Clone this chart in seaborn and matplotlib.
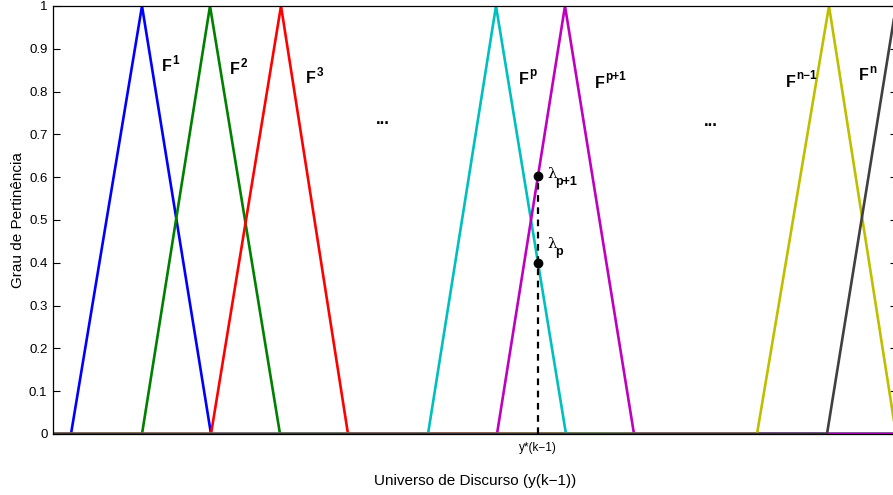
import numpy as np
import pandas as pd
import matplotlib
matplotlib.use('Agg')
import matplotlib.pyplot as plt
import seaborn as sns

# membership functions: (start, peak, end) along the universe of discourse
names = ['F1', 'F2', 'F3', 'Fp', 'Fp1', 'Fn1', 'Fn']
starts = [18, 89, 158, 375, 444, 704, 774]
peaks = [89, 157, 228, 443, 512, 776, 843]
ends = [158, 227, 295, 513, 581, 843, 912]
colors = ['#0000ff', '#008000', '#ff0000', '#00bfbf', '#bf00bf', '#bfbf00', '#404040']
sup_labels = ['1', '2', '3', 'p', 'p+1', 'n\u22121', 'n']
label_x = [109, 177, 253, 466, 542, 733, 806]
label_y = [0.858, 0.851, 0.830, 0.828, 0.819, 0.821, 0.837]

x_min, x_max = 0, 844
y_star = 485  # crisp input y*(k-1)

yticks = [0, 0.1, 0.2, 0.3, 0.4, 0.5, 0.6, 0.7, 0.8, 0.9, 1]
ytick_labels = ['0', '0.1', '0.2', '0.3', '0.4', '0.5', '0.6', '0.7', '0.8', '0.9', '1']

rows = []
for n, a, b, c in zip(names, starts, peaks, ends):
    for xv, mv in [(x_min, 0), (a, 0), (b, 1), (c, 0), (max(c, x_max), 0)]:
        rows.append({'x': xv, 'mu': mv, 'name': n})
df = pd.DataFrame(rows)


def tri(x, a, b, c):
    return max(0.0, min((x - a) / (b - a), (c - x) / (c - b)))


lam_p = tri(y_star, starts[3], peaks[3], ends[3])
lam_p1 = tri(y_star, starts[4], peaks[4], ends[4])

sns.set_style('white')
plt.rcParams['font.family'] = ['Liberation Sans', 'DejaVu Sans']
plt.rcParams['text.color'] = 'black'
plt.rcParams['axes.labelcolor'] = 'black'
plt.rcParams['xtick.color'] = 'black'
plt.rcParams['ytick.color'] = 'black'

fig = plt.figure(figsize=(8.93, 4.95), dpi=100)
ax = fig.add_axes([53 / 893, 61 / 495, 844 / 893, 428 / 495])

sns.lineplot(data=df, x='x', y='mu', hue='name', hue_order=names, palette=colors,
             sort=False, estimator=None, legend=False, linewidth=1.9, ax=ax)

# crisp input and activation degrees
ax.plot([y_star, y_star], [0, lam_p1], 'k--', linewidth=1.6, dashes=(3, 2.5))
ax.plot([y_star, y_star], [lam_p, lam_p1], 'ko', markersize=6)
ax.text(y_star + 9, lam_p1 + 0.005, '\u03bb', fontsize=11, va='center', family='DejaVu Serif')
ax.text(y_star + 17, lam_p1 - 0.015, 'p+1', fontsize=9, fontweight='bold', va='center')
ax.text(y_star + 9, lam_p + 0.045, '\u03bb', fontsize=11, va='center', family='DejaVu Serif')
ax.text(y_star + 17, lam_p + 0.025, 'p', fontsize=9, fontweight='bold', va='center')

# membership function names: bold F with a raised index
for sup, lx, ly in zip(sup_labels, label_x, label_y):
    ax.text(lx, ly, 'F', fontsize=11.5, fontweight='bold', va='center', ha='left')
    ax.annotate(sup, (lx, ly), xytext=(7.6, 4.5), textcoords='offset points',
                fontsize=8.5, fontweight='bold', va='center', ha='left')
ax.text(330, 0.735, '...', fontsize=12, fontweight='bold', ha='center', va='center')
ax.text(658, 0.731, '...', fontsize=12, fontweight='bold', ha='center', va='center')

ax.set_xlim(x_min, x_max)
ax.set_ylim(0, 1)
ax.set_yticks(yticks)
ax.set_yticklabels(ytick_labels)
ax.set_xticks([y_star])
ax.set_xticklabels(['y*(k\u22121)'], fontsize=8.5)
ax.tick_params(axis='y', direction='in', length=5, width=0.8, labelsize=9.5,
               right=True, left=True, pad=4)
ax.tick_params(axis='x', length=0, pad=6)
ax.set_xlabel('Universo de Discurso (y(k\u22121))', fontsize=11, labelpad=14)
ax.set_ylabel('Grau de Pertinência', fontsize=11, labelpad=3)
for s in ax.spines.values():
    s.set_color('black')
    s.set_linewidth(0.9)

fig.savefig('out.png', dpi=100)
